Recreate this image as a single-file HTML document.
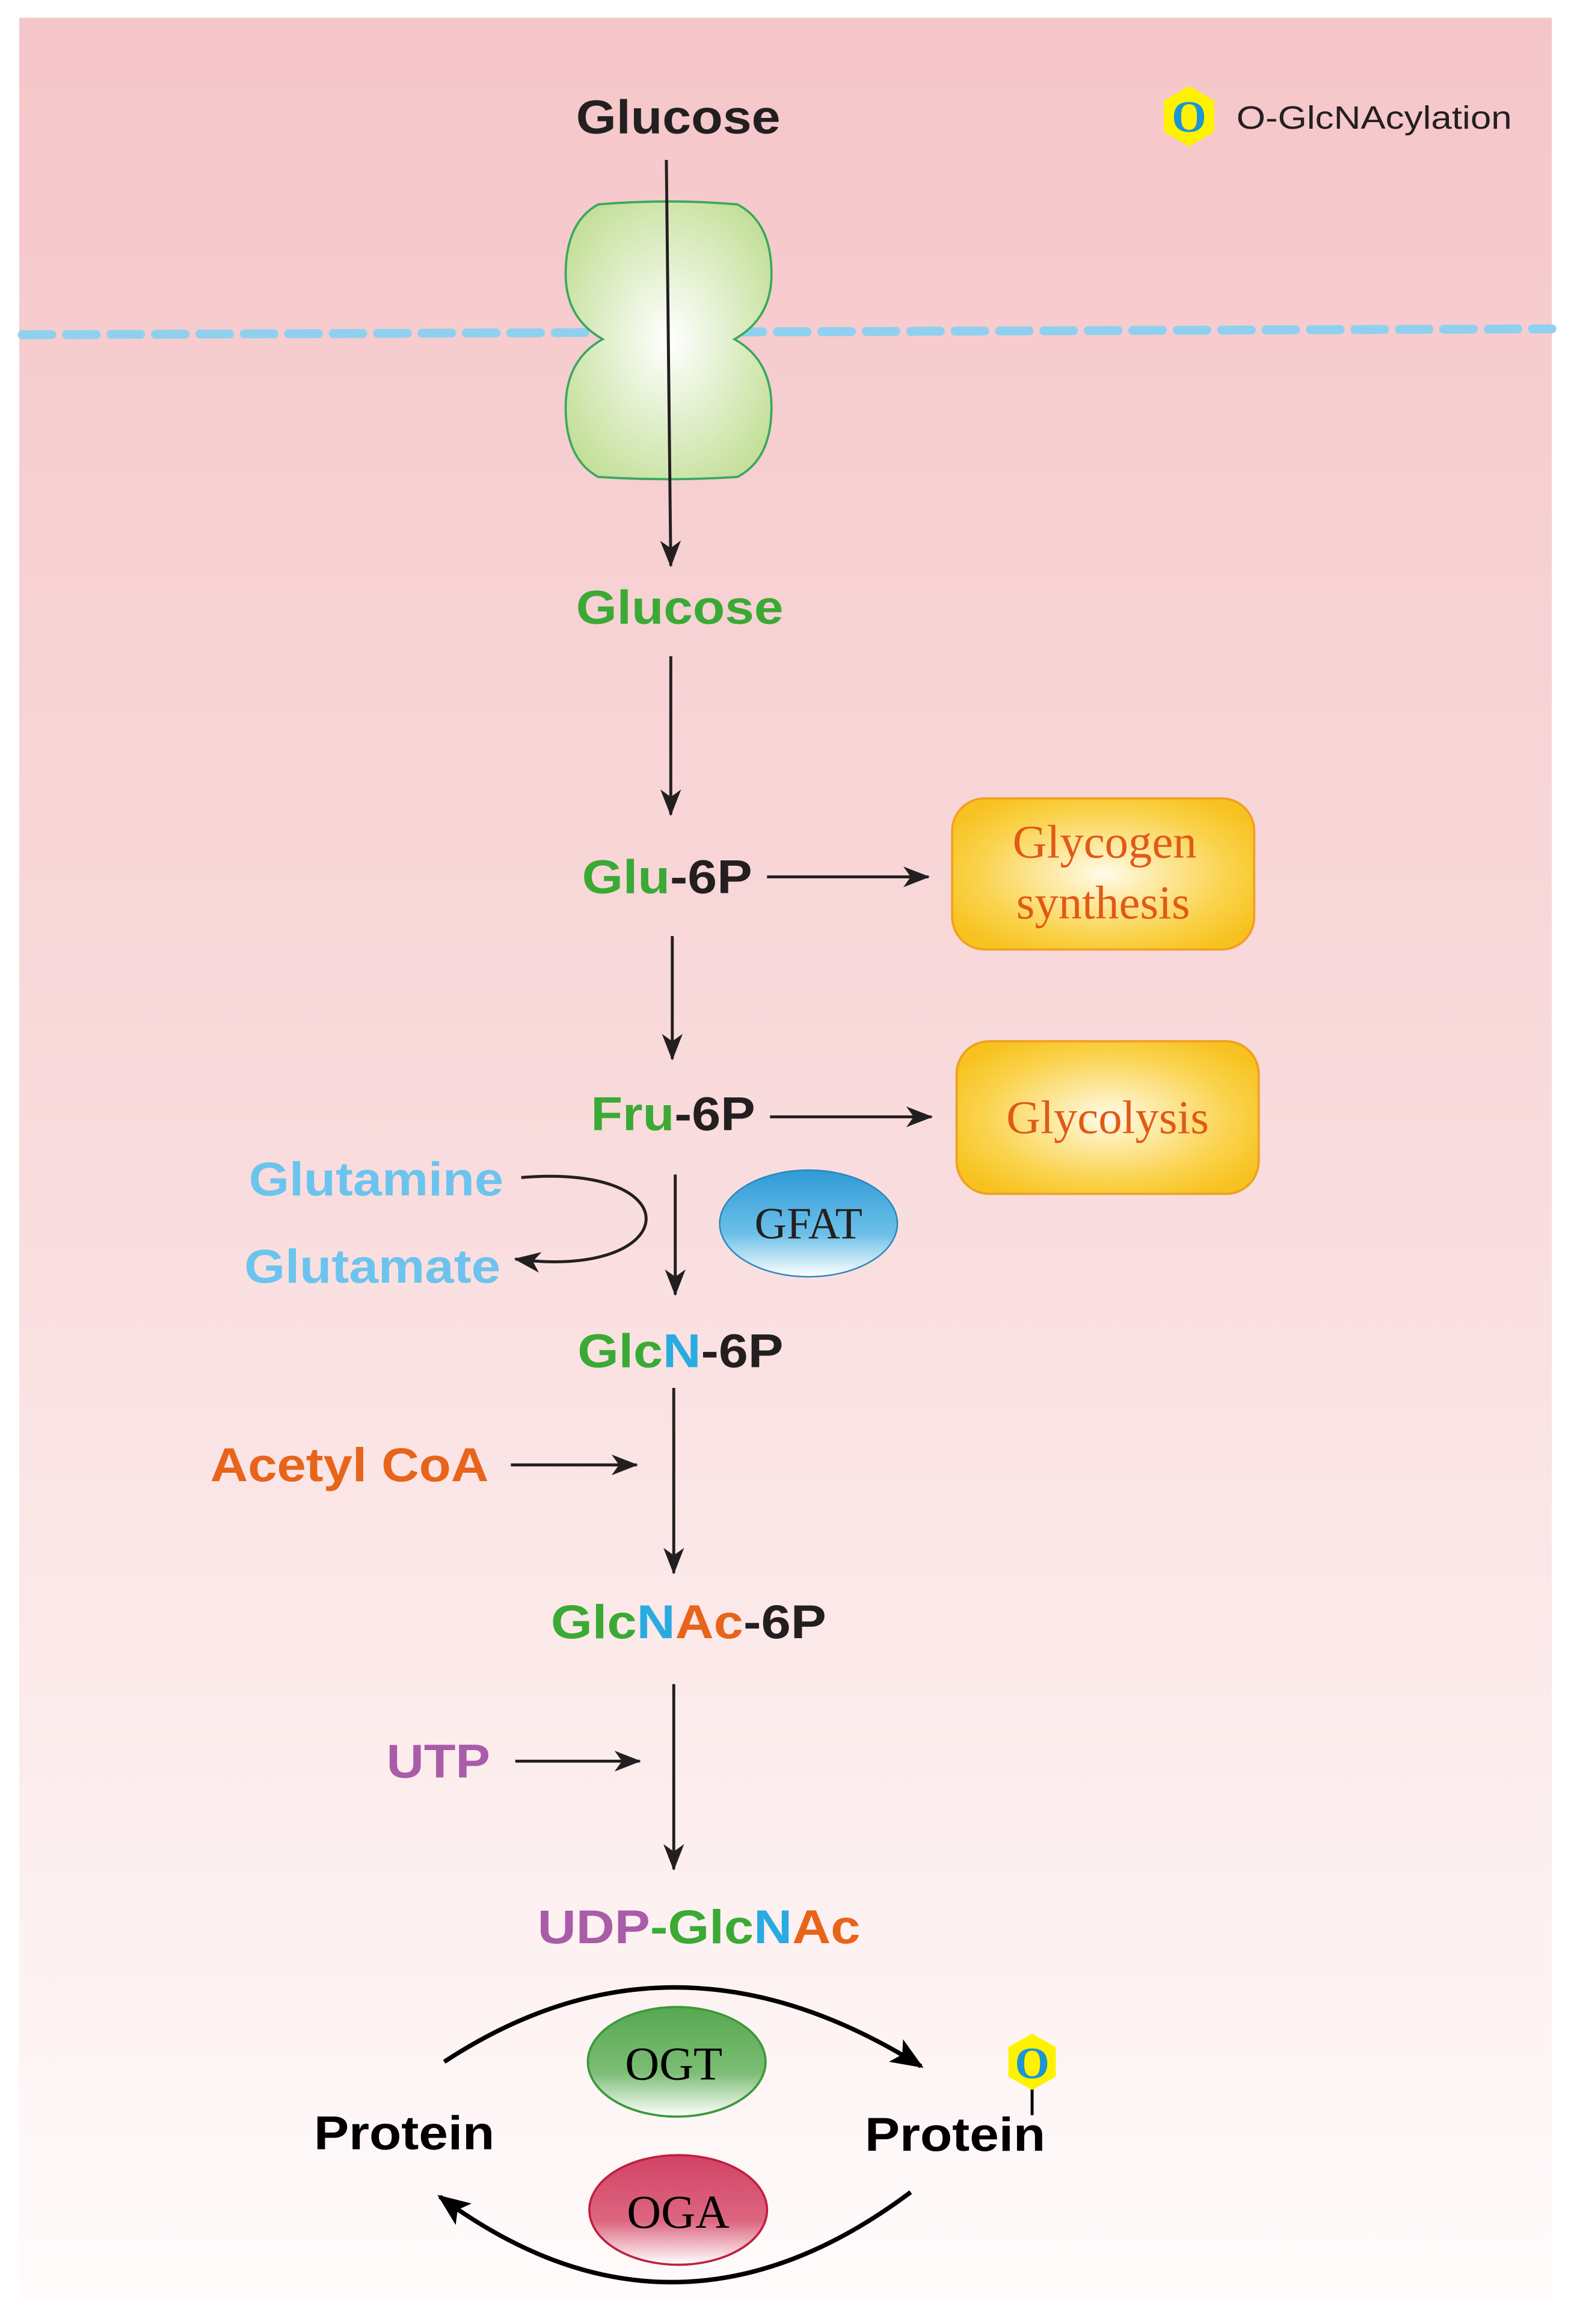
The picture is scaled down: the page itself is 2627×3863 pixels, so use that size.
<!DOCTYPE html>
<html><head><meta charset="utf-8"><style>
html,body{margin:0;padding:0;background:#fff;}
svg{display:block;}
text{font-family:"Liberation Sans",sans-serif;font-weight:bold;}
.s{font-family:"Liberation Serif",serif;font-weight:normal;}
</style></head><body>
<svg width="2627" height="3863" viewBox="0 0 1067 1569" preserveAspectRatio="none" xmlns="http://www.w3.org/2000/svg">
<defs>
<linearGradient id="bg" x1="0" y1="0" x2="0" y2="1">
<stop offset="0" stop-color="#f5c6c9"/><stop offset="0.5" stop-color="#f9dcdd"/><stop offset="1" stop-color="#fffbfb"/></linearGradient>
<radialGradient id="tr" cx="0.5" cy="0.5" r="0.6"><stop offset="0" stop-color="#ffffff"/><stop offset="1" stop-color="#c3df98"/></radialGradient>
<radialGradient id="yb" cx="0.5" cy="0.5" r="0.6"><stop offset="0" stop-color="#fffbe8"/><stop offset="0.7" stop-color="#fad24a"/><stop offset="1" stop-color="#f7c21f"/></radialGradient>
<linearGradient id="gf" x1="0" y1="0" x2="0" y2="1"><stop offset="0" stop-color="#2f9bd6"/><stop offset="0.6" stop-color="#6cc0e8"/><stop offset="1" stop-color="#ffffff"/></linearGradient>
<linearGradient id="og" x1="0" y1="0" x2="0" y2="1"><stop offset="0" stop-color="#56a852"/><stop offset="0.6" stop-color="#7cbd74"/><stop offset="1" stop-color="#ffffff"/></linearGradient>
<linearGradient id="oa" x1="0" y1="0" x2="0" y2="1"><stop offset="0" stop-color="#d24366"/><stop offset="0.6" stop-color="#dc6680"/><stop offset="1" stop-color="#ffffff"/></linearGradient>
<marker id="ah" markerWidth="18" markerHeight="14" refX="17" refY="7" orient="auto" markerUnits="userSpaceOnUse">
<path d="M0,0 L18,7 L0,14 L5,7 Z" fill="#231f20"/></marker>
<marker id="ahb" markerWidth="22" markerHeight="18" refX="20" refY="9" orient="auto" markerUnits="userSpaceOnUse">
<path d="M0,0 L22,9 L0,18 L5,9 Z" fill="#000"/></marker>
</defs>
<rect x="0" y="0" width="1067" height="1569" fill="#fff"/>
<rect x="13" y="12" width="1035" height="1540" fill="url(#bg)"/>
<line x1="15" y1="226" x2="1048" y2="222" stroke="#8fd0ef" stroke-width="6" stroke-dasharray="20 10" stroke-linecap="round"/>
<path d="M404,138 Q451,134 498,138 Q521,150 521,185 Q521,215 496,229 Q521,243 521,275 Q521,310 498,322 Q451,325 404,322 Q382,310 382,275 Q382,243 407,229 Q382,215 382,185 Q382,150 404,138 Z" fill="url(#tr)" stroke="#3aa860" stroke-width="1.5"/>
<text x="458" y="90" font-size="32" fill="#231f20" text-anchor="middle" textLength="138" lengthAdjust="spacingAndGlyphs">Glucose</text>
<polygon points="803,58 820,68 820,89 803,99 786,89 786,68" fill="#fff200"/>
<text x="803" y="89" class="s" font-size="30" fill="#1b95d4" text-anchor="middle" style="font-weight:bold">O</text>
<text x="835" y="87" font-size="22" fill="#231f20" style="font-weight:normal" textLength="186" lengthAdjust="spacingAndGlyphs">O-GlcNAcylation</text>
<line x1="450" y1="108" x2="453" y2="382" stroke="#231f20" stroke-width="2" marker-end="url(#ah)"/>
<text x="459" y="421" font-size="32" fill="#3aaa35" text-anchor="middle" textLength="140" lengthAdjust="spacingAndGlyphs">Glucose</text>
<line x1="453" y1="443" x2="453" y2="550" stroke="#231f20" stroke-width="2" marker-end="url(#ah)"/>
<text x="393" y="603" font-size="32" fill="#3aaa35" textLength="115" lengthAdjust="spacingAndGlyphs">Glu<tspan fill="#231f20">-6P</tspan></text>
<line x1="518" y1="592" x2="627" y2="592" stroke="#231f20" stroke-width="2" marker-end="url(#ah)"/>
<rect x="643" y="539" width="204" height="102" rx="22" fill="url(#yb)" stroke="#f0a020" stroke-width="1.5"/>
<text x="746" y="579" class="s" font-size="32" fill="#e05a16" text-anchor="middle">Glycogen</text>
<text x="745" y="620" class="s" font-size="32" fill="#e05a16" text-anchor="middle">synthesis</text>
<line x1="454" y1="632" x2="454" y2="715" stroke="#231f20" stroke-width="2" marker-end="url(#ah)"/>
<text x="399" y="763" font-size="32" fill="#3aaa35" textLength="111" lengthAdjust="spacingAndGlyphs">Fru<tspan fill="#231f20">-6P</tspan></text>
<line x1="520" y1="754" x2="629" y2="754" stroke="#231f20" stroke-width="2" marker-end="url(#ah)"/>
<rect x="646" y="703" width="204" height="103" rx="22" fill="url(#yb)" stroke="#f0a020" stroke-width="1.5"/>
<text x="748" y="765" class="s" font-size="32" fill="#e05a16" text-anchor="middle">Glycolysis</text>
<text x="340" y="807" font-size="32" fill="#6cc4ee" text-anchor="end" textLength="172" lengthAdjust="spacingAndGlyphs">Glutamine</text>
<text x="338" y="866" font-size="32" fill="#6cc4ee" text-anchor="end" textLength="173" lengthAdjust="spacingAndGlyphs">Glutamate</text>
<path d="M352,795 C470,785 460,865 348,850" fill="none" stroke="#231f20" stroke-width="2" marker-end="url(#ah)"/>
<line x1="456" y1="793" x2="456" y2="874" stroke="#231f20" stroke-width="2" marker-end="url(#ah)"/>
<ellipse cx="546" cy="826" rx="60" ry="36" fill="url(#gf)" stroke="#2a86c0" stroke-width="1"/>
<text x="546" y="836" class="s" font-size="30" fill="#231f20" text-anchor="middle">GFAT</text>
<text x="390" y="923" font-size="32" fill="#3aaa35" textLength="139" lengthAdjust="spacingAndGlyphs">Glc<tspan fill="#29abe2">N</tspan><tspan fill="#231f20">-6P</tspan></text>
<line x1="455" y1="937" x2="455" y2="1062" stroke="#231f20" stroke-width="2" marker-end="url(#ah)"/>
<text x="330" y="1000" font-size="32" fill="#e8641b" text-anchor="end" textLength="188" lengthAdjust="spacingAndGlyphs">Acetyl CoA</text>
<line x1="345" y1="989" x2="430" y2="989" stroke="#231f20" stroke-width="2" marker-end="url(#ah)"/>
<text x="372" y="1106" font-size="32" fill="#3aaa35" textLength="186" lengthAdjust="spacingAndGlyphs">Glc<tspan fill="#29abe2">N</tspan><tspan fill="#e8641b">Ac</tspan><tspan fill="#231f20">-6P</tspan></text>
<line x1="455" y1="1137" x2="455" y2="1262" stroke="#231f20" stroke-width="2" marker-end="url(#ah)"/>
<text x="331" y="1200" font-size="32" fill="#a95ca8" text-anchor="end" textLength="70" lengthAdjust="spacingAndGlyphs">UTP</text>
<line x1="348" y1="1189" x2="432" y2="1189" stroke="#231f20" stroke-width="2" marker-end="url(#ah)"/>
<text x="363" y="1312" font-size="32" fill="#a95ca8" textLength="218" lengthAdjust="spacingAndGlyphs">UDP<tspan fill="#3aaa35">-Glc</tspan><tspan fill="#29abe2">N</tspan><tspan fill="#e8641b">Ac</tspan></text>
<path d="M300,1392 Q455,1290 622,1395" fill="none" stroke="#000" stroke-width="3" marker-end="url(#ahb)"/>
<ellipse cx="457" cy="1392" rx="60" ry="37" fill="url(#og)" stroke="#3a9a3a" stroke-width="1.5"/>
<text x="455" y="1404" class="s" font-size="32" fill="#000" text-anchor="middle">OGT</text>
<text x="273" y="1451" font-size="32" fill="#000" text-anchor="middle" textLength="122" lengthAdjust="spacingAndGlyphs">Protein</text>
<text x="645" y="1452" font-size="32" fill="#000" text-anchor="middle" textLength="122" lengthAdjust="spacingAndGlyphs">Protein</text>
<line x1="697" y1="1410" x2="697" y2="1428" stroke="#000" stroke-width="2"/>
<polygon points="697,1373 713,1382 713,1402 697,1411 681,1402 681,1382" fill="#fff200"/>
<text x="697" y="1403" class="s" font-size="30" fill="#1b95d4" text-anchor="middle" style="font-weight:bold">O</text>
<path d="M615,1480 Q455,1600 297,1483" fill="none" stroke="#000" stroke-width="3" marker-end="url(#ahb)"/>
<ellipse cx="458" cy="1492" rx="60" ry="37" fill="url(#oa)" stroke="#c02040" stroke-width="1.5"/>
<text x="458" y="1504" class="s" font-size="32" fill="#000" text-anchor="middle">OGA</text>
</svg>
</body></html>
